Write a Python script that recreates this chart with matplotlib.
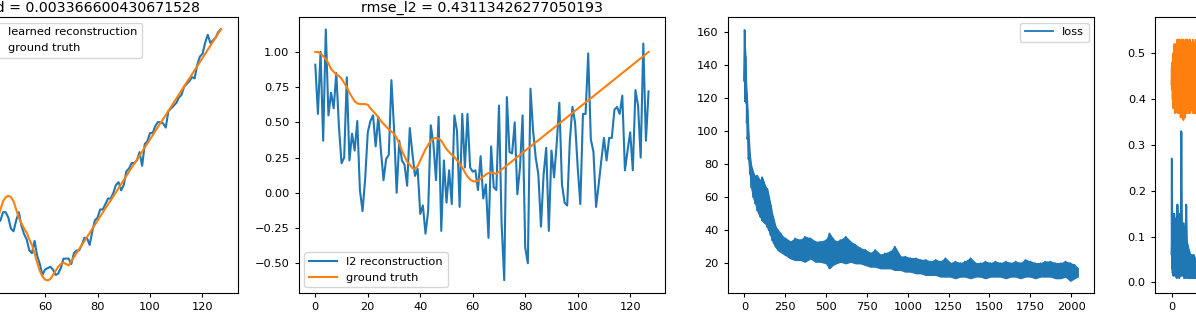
import numpy as np
import matplotlib
matplotlib.use('Agg')
import matplotlib.pyplot as plt

# valores
idx = np.arange(128)

ground_truth = [1.00, 1.00, 0.99, 0.97, 0.95, 0.92, 0.88, 0.86, 0.84, 0.83,
                0.81, 0.78, 0.75, 0.71, 0.68, 0.65, 0.635, 0.63, 0.63, 0.63,
                0.625, 0.60, 0.58, 0.56, 0.535, 0.51, 0.49, 0.47, 0.45, 0.435,
                0.42, 0.39, 0.35, 0.30, 0.26, 0.22, 0.20, 0.175, 0.17, 0.19,
                0.23, 0.27, 0.31, 0.34, 0.37, 0.385, 0.39, 0.385, 0.37, 0.34,
                0.31, 0.29, 0.27, 0.255, 0.23, 0.21, 0.18, 0.145, 0.115, 0.095,
                0.083, 0.08, 0.085, 0.10, 0.115, 0.13, 0.14, 0.145, 0.14, 0.135,
                0.150, 0.165, 0.180, 0.195, 0.210, 0.224, 0.239, 0.254, 0.269, 0.284,
                0.299, 0.314, 0.329, 0.344, 0.359, 0.373, 0.388, 0.403, 0.418, 0.433,
                0.448, 0.463, 0.478, 0.493, 0.508, 0.522, 0.537, 0.552, 0.567, 0.582,
                0.597, 0.612, 0.627, 0.642, 0.657, 0.671, 0.686, 0.701, 0.716, 0.731,
                0.746, 0.761, 0.776, 0.791, 0.806, 0.820, 0.835, 0.850, 0.865, 0.880,
                0.895, 0.910, 0.925, 0.940, 0.955, 0.969, 0.985, 1.000]

learned = [0.98, 0.99, 0.97, 0.99, 0.95, 0.94, 0.89, 0.88, 0.84, 0.86,
           0.82, 0.82, 0.77, 0.75, 0.69, 0.67, 0.63, 0.64, 0.61, 0.64,
           0.62, 0.63, 0.59, 0.59, 0.54, 0.54, 0.50, 0.49, 0.45, 0.45,
           0.42, 0.42, 0.38, 0.36, 0.29, 0.27, 0.20, 0.20, 0.16, 0.20,
           0.21, 0.27, 0.29, 0.30, 0.33, 0.33, 0.31, 0.27, 0.26, 0.30,
           0.33, 0.28, 0.25, 0.23, 0.19, 0.18, 0.225, 0.17, 0.14, 0.10,
           0.12, 0.125, 0.13, 0.12, 0.10, 0.105, 0.125, 0.16, 0.16, 0.16,
           0.14, 0.18, 0.19, 0.19, 0.21, 0.236, 0.235, 0.21, 0.26, 0.30,
           0.31, 0.34, 0.34, 0.36, 0.38, 0.38, 0.40, 0.43, 0.44, 0.41,
           0.43, 0.48, 0.49, 0.51, 0.51, 0.52, 0.55, 0.50, 0.58, 0.59,
           0.62, 0.62, 0.645, 0.66, 0.66, 0.655, 0.64, 0.70, 0.71, 0.72,
           0.73, 0.75, 0.76, 0.79, 0.80, 0.81, 0.825, 0.82, 0.87, 0.90,
           0.91, 0.95, 0.98, 0.95, 0.96, 0.97, 0.99, 1.00]

l2_recon = [0.91, 0.56, 1.00, 0.37, 1.16, 0.55, 0.71, 0.60, 0.85, 0.47,
            0.21, 0.25, 0.82, 0.23, 0.42, 0.30, 0.51, 0.02, -0.13, 0.10,
            0.43, 0.51, 0.55, 0.33, 0.54, 0.30, 0.09, 0.24, 0.27, 0.80,
            0.46, 0.00, 0.37, 0.23, 0.20, 0.05, 0.46, 0.28, 0.12, 0.17,
            -0.15, -0.09, -0.29, -0.13, 0.48, 0.35, 0.09, 0.54, -0.27, 0.23,
            -0.07, 0.16, -0.08, 0.55, 0.44, -0.10, 0.56, 0.18, 0.56, 0.18,
            0.15, 0.16, 0.02, 0.26, -0.04, 0.06, -0.32, 0.33, 0.04, 0.02,
            0.62, -0.22, -0.62, 0.68, 0.29, 0.28, 0.50, -0.01, 0.18, 0.55,
            -0.39, -0.50, 0.74, 0.44, 0.25, 0.13, -0.24, 0.13, 0.32, -0.27,
            0.30, 0.11, 0.35, 0.64, 0.06, -0.07, -0.09, 0.37, 0.61, 0.50,
            0.18, -0.08, 0.56, 0.56, 0.99, 0.38, 0.29, -0.10, 0.06, 0.23,
            0.39, 0.23, 0.39, 0.39, 0.59, 0.61, 0.56, 0.69, 0.16, 0.30,
            0.43, 0.16, 0.73, 0.62, 0.25, 1.06, 0.37, 0.72]

rmse_learned = '0.003366600430671528'
rmse_l2 = '0.43113426277050193'

# loss: passos e envelope (topo / fundo) do ruido
loss_steps = [0, 3, 6, 10, 14, 18, 24, 33, 41, 53,
              67, 78, 88, 98, 108, 118, 129, 139, 149, 160,
              169, 180, 190, 205, 220, 235, 251, 282, 310, 343,
              370, 404, 435, 465, 500, 520, 540, 560, 588, 620,
              649, 680, 710, 740, 771, 800, 833, 860, 894, 920,
              955, 985, 1016, 1050, 1078, 1110, 1139, 1170, 1200, 1230,
              1261, 1290, 1322, 1350, 1384, 1415, 1445, 1475, 1506, 1535,
              1567, 1600, 1629, 1660, 1690, 1720, 1751, 1780, 1812, 1840,
              1873, 1905, 1935, 1965, 1996, 2020, 2040]
loss_hi = [161, 150, 145, 128, 122, 113, 99, 85, 79, 75,
           72, 73, 71, 70, 72, 69, 66, 65, 60, 55,
           50, 46, 42, 40, 38, 36, 35, 33, 35, 34,
           36, 35, 33, 33, 34, 38, 35, 33, 34, 36,
           33, 31, 29, 28, 26, 28, 25, 26, 27, 30,
           24, 24, 23, 23, 22, 22, 21, 22, 21, 23,
           20, 21, 20, 21, 23, 20, 20, 21, 20, 21,
           20, 21, 20, 21, 20, 22, 21, 20, 20, 21,
           21, 20, 20, 21, 20, 19, 17]
loss_lo = [130, 118, 120, 117, 105, 95, 83, 74, 66, 60,
           56, 52, 50, 48, 46, 45, 44, 42, 40, 37,
           34, 32, 30, 28, 27, 26, 25, 23, 22, 22,
           21, 23, 21, 21, 20, 17, 19, 20, 21, 20,
           21, 20, 20, 19, 18, 18, 17, 17, 17, 16,
           16, 15, 15, 14, 14, 13, 13, 13, 12, 12,
           12, 11, 12, 12, 11, 12, 12, 11, 12, 12,
           12, 11, 12, 12, 11, 12, 12, 11, 12, 12,
           12, 11, 11, 12, 9.5, 11, 12]

# quarto grafico (so o inicio aparece)
b_steps = [0, 3, 6, 10, 15, 20, 25, 30, 35, 40,
           45, 50, 55, 58, 62, 68, 75, 80, 85, 88,
           92, 98, 105, 115, 125, 135, 145, 160, 180]
b_hi = [0.27, 0.10, 0.15, 0.12, 0.15, 0.11, 0.14, 0.10, 0.17, 0.12,
        0.15, 0.11, 0.14, 0.33, 0.12, 0.13, 0.10, 0.12, 0.13, 0.17,
        0.09, 0.08, 0.07, 0.06, 0.06, 0.06, 0.05, 0.05, 0.05]
b_lo = [0.06, 0.03, 0.02, 0.015, 0.02, 0.015, 0.02, 0.01, 0.02, 0.015,
        0.01, 0.02, 0.015, 0.02, 0.015, 0.02, 0.01, 0.015, 0.01, 0.02,
        0.015, 0.01, 0.01, 0.01, 0.01, 0.01, 0.01, 0.01, 0.01]
o_steps = [0, 3, 6, 10, 15, 20, 25, 30, 35, 40,
           45, 50, 55, 60, 65, 70, 75, 80, 85, 90,
           95, 100, 110, 120, 130, 140, 150, 165, 180]
o_hi = [0.47, 0.48, 0.46, 0.50, 0.52, 0.49, 0.52, 0.50, 0.53, 0.51,
        0.53, 0.50, 0.52, 0.53, 0.51, 0.53, 0.52, 0.50, 0.53, 0.51,
        0.53, 0.52, 0.53, 0.52, 0.53, 0.52, 0.53, 0.52, 0.53]
o_lo = [0.43, 0.42, 0.40, 0.38, 0.40, 0.37, 0.39, 0.38, 0.37, 0.39,
        0.37, 0.38, 0.36, 0.38, 0.37, 0.355, 0.38, 0.36, 0.38, 0.37,
        0.38, 0.37, 0.37, 0.38, 0.37, 0.37, 0.37, 0.37, 0.37]


def zigzag(steps, hi, lo):
    xs = np.repeat(np.asarray(steps, dtype=float), 2)
    ys = np.column_stack([hi, lo]).ravel()
    return xs, ys


def noisy(ax, steps, hi, lo, color, label=None):
    ax.fill_between(steps, lo, hi, color=color, lw=1.0)
    xs, ys = zigzag(steps, hi, lo)
    ax.plot(xs, ys, color=color, lw=1.3, label=label)


plt.rcParams.update({
    'font.size': 8.2,
    'axes.titlesize': 10.2,
    'xtick.labelsize': 8.2,
    'ytick.labelsize': 8.2,
    'legend.fontsize': 8.2,
    'xtick.major.size': 3.1,
    'ytick.major.size': 3.1,
    'lines.linewidth': 1.5,
    'legend.handlelength': 2.5,
})

fig = plt.figure(figsize=(11.96, 3.22), dpi=100)
bot, h, w = 0.0901, 0.857, 0.3065
ax1 = fig.add_axes([-0.1079, bot, w, h])
ax2 = fig.add_axes([0.2497, bot, w, h])
ax3 = fig.add_axes([0.6085, bot, w, h])
ax4 = fig.add_axes([0.9657, bot, w, h])

ax1.plot(idx, learned, label='learned reconstruction')
ax1.plot(idx, ground_truth, label='ground truth')
ax1.set_xlim(-6.35, 133.35)
ax1.set_ylim(0.034, 1.045)
ax1.set_title('rmse_learned = ' + rmse_learned, pad=3.6)
ax1.legend(loc='upper center')

ax2.plot(idx, l2_recon, label='l2 reconstruction')
ax2.plot(idx, ground_truth, label='ground truth')
ax2.set_xlim(-6.35, 133.35)
ax2.set_ylim(-0.711, 1.248)
ax2.set_yticks([-0.5, -0.25, 0, 0.25, 0.5, 0.75, 1.0])
ax2.set_title('rmse_l2 = ' + rmse_l2, pad=3.6)
ax2.legend(loc='lower left')

noisy(ax3, loss_steps, loss_hi, loss_lo, 'C0', label='loss')
ax3.set_xlim(-102, 2142)
ax3.set_ylim(2.0, 168.9)
ax3.set_xticks(range(0, 2001, 250))
ax3.set_yticks(range(20, 161, 20))
ax3.legend(loc='upper right')

noisy(ax4, b_steps, b_hi, b_lo, 'C0')
noisy(ax4, o_steps, o_hi, o_lo, 'C1')
ax4.set_xlim(-102, 2142)
ax4.set_ylim(-0.023, 0.579)
ax4.set_xticks(range(0, 2001, 250))
ax4.set_yticks([0.0, 0.1, 0.2, 0.3, 0.4, 0.5])

fig.savefig('out.png', dpi=100)
